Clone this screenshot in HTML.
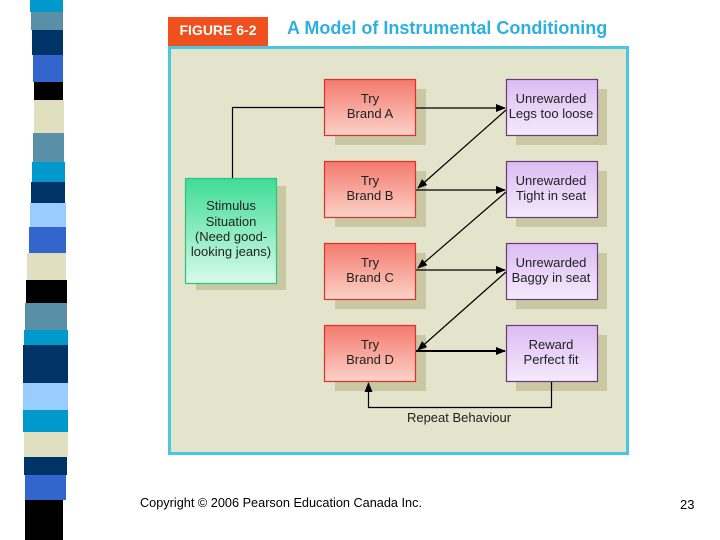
<!DOCTYPE html>
<html><head><style>
body{margin:0;width:720px;height:540px;background:#fff;overflow:hidden;font-family:"Liberation Sans",sans-serif}
</style></head><body>
<svg width="720" height="540" xmlns="http://www.w3.org/2000/svg" style="position:absolute;left:0;top:0">
<defs>
<linearGradient id="red" x1="0" y1="0" x2="0" y2="1"><stop offset="0" stop-color="#f47a6e"/><stop offset="1" stop-color="#fcd2c8"/></linearGradient>
<linearGradient id="pur" x1="0" y1="0" x2="0" y2="1"><stop offset="0" stop-color="#dcbcf4"/><stop offset="1" stop-color="#f4eafc"/></linearGradient>
<linearGradient id="grn" x1="0" y1="0" x2="0" y2="1"><stop offset="0" stop-color="#3fdc96"/><stop offset="1" stop-color="#d8fbea"/></linearGradient>
<marker id="ah" markerWidth="10" markerHeight="8" refX="9" refY="4" orient="auto" markerUnits="userSpaceOnUse"><path d="M0,0 L10,4 L0,8 z" fill="#000"/></marker>
</defs>
<g>
<rect x="30" y="0" width="33" height="12" fill="#0099cc"/>
<rect x="31" y="12" width="32" height="18" fill="#5a8fa8"/>
<rect x="32" y="30" width="31" height="25" fill="#003366"/>
<rect x="33" y="55" width="30" height="27" fill="#3366cc"/>
<rect x="34" y="82" width="29" height="18" fill="#000"/>
<rect x="34" y="100" width="30" height="33" fill="#e0e0c0"/>
<rect x="33" y="133" width="31" height="29" fill="#5a8fa8"/>
<rect x="32" y="162" width="33" height="20" fill="#0099cc"/>
<rect x="31" y="182" width="34" height="21" fill="#003366"/>
<rect x="30" y="203" width="36" height="24" fill="#99ccff"/>
<rect x="29" y="227" width="37" height="26" fill="#3366cc"/>
<rect x="27" y="253" width="39" height="27" fill="#e0e0c0"/>
<rect x="26" y="280" width="41" height="23" fill="#000"/>
<rect x="25" y="303" width="42" height="27" fill="#5a8fa8"/>
<rect x="24" y="330" width="44" height="15" fill="#0099cc"/>
<rect x="23" y="345" width="45" height="38" fill="#003366"/>
<rect x="23" y="383" width="45" height="27" fill="#99ccff"/>
<rect x="23" y="410" width="45" height="22" fill="#0099cc"/>
<rect x="24" y="432" width="44" height="25" fill="#e0e0c0"/>
<rect x="24" y="457" width="43" height="18" fill="#003366"/>
<rect x="25" y="475" width="41" height="25" fill="#3366cc"/>
<rect x="25" y="500" width="38" height="40" fill="#000"/>
</g>
<rect x="168" y="17" width="100" height="29" fill="#f0501e"/>
<text x="218" y="35" font-size="14" font-weight="bold" fill="#fff" text-anchor="middle">FIGURE 6-2</text>
<text x="287" y="34" font-size="18" font-weight="bold" fill="#2db0e0">A Model of Instrumental Conditioning</text>
<rect x="169.5" y="47.5" width="458" height="406" fill="#e4e3cb" stroke="#4cc6e0" stroke-width="3"/>
<g fill="#c9c8a3">
<rect x="335" y="89" width="91" height="56"/><rect x="335" y="171" width="91" height="56"/><rect x="335" y="253" width="91" height="56"/><rect x="335" y="335" width="91" height="56"/>
<rect x="516" y="89" width="91" height="56"/><rect x="516" y="171" width="91" height="56"/><rect x="516" y="253" width="91" height="56"/><rect x="516" y="335" width="91" height="56"/>
<rect x="196" y="186" width="90" height="104"/>
</g>
<g stroke="#e0302a" stroke-width="1.2" fill="url(#red)">
<rect x="324.5" y="79.5" width="91" height="56"/><rect x="324.5" y="161.5" width="91" height="56"/><rect x="324.5" y="243.5" width="91" height="56"/><rect x="324.5" y="325.5" width="91" height="56"/>
</g>
<g stroke="#6a3a7a" stroke-width="1.2" fill="url(#pur)">
<rect x="506.5" y="79.5" width="91" height="56"/><rect x="506.5" y="161.5" width="91" height="56"/><rect x="506.5" y="243.5" width="91" height="56"/><rect x="506.5" y="325.5" width="91" height="56"/>
</g>
<rect x="185.5" y="178.5" width="91" height="105" fill="url(#grn)" stroke="#2cc47a" stroke-width="1.2"/>
<g font-size="13" fill="#222" text-anchor="middle">
<text x="370" y="103">Try</text><text x="370" y="118">Brand A</text>
<text x="370" y="185">Try</text><text x="370" y="200">Brand B</text>
<text x="370" y="267">Try</text><text x="370" y="282">Brand C</text>
<text x="370" y="349">Try</text><text x="370" y="364">Brand D</text>
<text x="551" y="103">Unrewarded</text><text x="551" y="118">Legs too loose</text>
<text x="551" y="185">Unrewarded</text><text x="551" y="200">Tight in seat</text>
<text x="551" y="267">Unrewarded</text><text x="551" y="282">Baggy in seat</text>
<text x="551" y="349">Reward</text><text x="551" y="364">Perfect fit</text>
<text x="231" y="210">Stimulus</text><text x="231" y="226">Situation</text><text x="231" y="241">(Need good-</text><text x="231" y="256">looking jeans)</text>
<text x="459" y="422">Repeat Behaviour</text>
</g>
<g stroke="#000" stroke-width="1.2" fill="none">
<path d="M232.5,178 V107.5 H324"/>
<path d="M416,108 H505" marker-end="url(#ah)"/>
<path d="M416,190 H505" marker-end="url(#ah)"/>
<path d="M416,270 H505" marker-end="url(#ah)"/>
<path d="M416,351 H505" stroke-width="2" marker-end="url(#ah)"/>
<path d="M506,110 L418,188" marker-end="url(#ah)"/>
<path d="M506,192 L418,268" marker-end="url(#ah)"/>
<path d="M506,272 L418,350" marker-end="url(#ah)"/>
<path d="M551.5,382 V407.5 H368.5 V383" marker-end="url(#ah)"/>
</g>
<text x="140" y="507" font-size="12.5" fill="#000" textLength="282" lengthAdjust="spacingAndGlyphs">Copyright © 2006 Pearson Education Canada Inc.</text>
<text x="680" y="509" font-size="13" fill="#000">23</text>
</svg>
</body></html>
